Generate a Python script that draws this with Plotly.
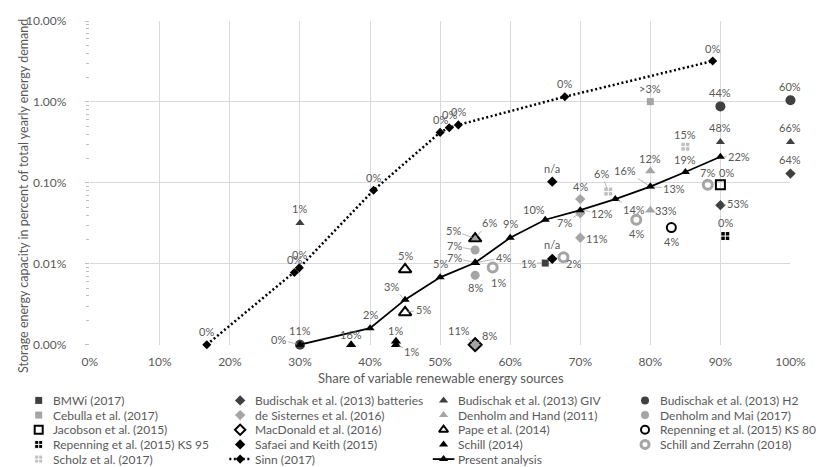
import math
import plotly.graph_objects as go

# values, y in percent of yearly demand (log axis)
bmwi_x = [65.0]
bmwi_y = [0.0102]
bmwi_lbl = ["1%"]

bud_bat_x = [90.0, 100.0]
bud_bat_y = [0.053, 0.13]
bud_bat_lbl = ["53%", "64%"]

bud_giv_x = [30.0, 90.0, 100.0]
bud_giv_y = [0.032, 0.32, 0.32]
bud_giv_lbl = ["1%", "48%", "66%"]

bud_h2_x = [30.0, 90.0, 100.0]
bud_h2_y = [0.001, 0.88, 1.05]
bud_h2_lbl = ["11%", "44%", "60%"]

cebulla_x = [80.0]
cebulla_y = [1.01]
cebulla_lbl = [">3%"]

desist_x = [70.0, 70.0, 70.0, 55.0]
desist_y = [0.063, 0.042, 0.021, 0.001]
desist_lbl = ["4%", "7%", "11%", "8%"]

dhand_x = [55.0, 80.0, 80.0, 80.0]
dhand_y = [0.021, 0.14, 0.090, 0.046]
dhand_lbl = ["6%", "12%", "13%", "33%"]

dmai_x = [55.0, 55.0]
dmai_y = [0.0148, 0.0072]
dmai_lbl = ["7%", "8%"]

jacobson_x = [90.0]
jacobson_y = [0.095]
jacobson_lbl = ["0%"]

macdonald_x = [55.0]
macdonald_y = [0.001]
macdonald_lbl = ["11%"]

pape_x = [45.0, 45.0, 55.0]
pape_y = [0.0085, 0.0025, 0.0205]
pape_lbl = ["5%", "5%", "5%"]

rep80_x = [83.0]
rep80_y = [0.028]
rep80_lbl = ["4%"]

rep95_x = [90.7]
rep95_y = [0.022]
rep95_lbl = ["0%"]

safaei_x = [66.0, 66.0]
safaei_y = [0.0115, 0.1035]
safaei_lbl = ["n/a", "n/a"]

schill_x = [37.3, 43.7, 43.7, 55.0]
schill_y = [0.001, 0.0011, 0.001, 0.0103]
schill_lbl = ["16%", "1%", "1%", "4%"]

schillz_x = [57.5, 67.6, 78.0, 88.2]
schillz_y = [0.009, 0.012, 0.035, 0.095]
schillz_lbl = ["1%", "2%", "4%", "7%"]

scholz_x = [74.0, 85.0]
scholz_y = [0.078, 0.28]
scholz_lbl = ["6%", "15%"]

sinn_x = [16.7, 29.2, 29.9, 40.5, 50.0, 51.3, 52.6, 67.8, 88.9]
sinn_y = [0.001, 0.0078, 0.0089, 0.081, 0.42, 0.48, 0.52, 1.16, 3.2]
sinn_lbl = ["0%", "0%", "0%", "0%", "0%", "0%", "0%", "0%", "0%"]

present_x = [30, 40, 45, 50, 55, 60, 65, 70, 75, 80, 85, 90]
present_y = [0.001, 0.0016, 0.0036, 0.0068, 0.0103, 0.021, 0.035, 0.046, 0.063, 0.090, 0.136, 0.21]
present_lbl = ["0%", "2%", "3%", "5%", "7%", "9%", "10%", "12%", "14%", "16%", "19%", "22%"]

DARK = "#404040"
MID = "#a5a5a5"
LIGHT = "#c0c0c0"
TXT = "#595959"
FONT = "Lato"

# label offsets in px (dx, dy down, leader line?)
OFF = {
    "BMWi (2017)": [(-17, 0, True)],
    "Budischak et al. (2013) batteries": [(18, -2, True), (0, -14, False)],
    "Budischak et al. (2013) GIV": [(0, -14, False)] * 3,
    "Budischak et al. (2013) H2": [(0, -14, False)] * 3,
    "Cebulla et al. (2017)": [(0, -13, False)],
    "de Sisternes et al. (2016)": [(0, -13, False), (-16, 9, True), (17, 1, False), (14, -9, True)],
    "Denholm and Hand (2011)": [(14, -15, True), (0, -13, False), (24, 2, True), (16, 0, False)],
    "Denholm and Mai (2017)": [(-21, -4, True), (0, 12, False)],
    "Jacobson et al. (2015)": [(6, -12, True)],
    "MacDonald et al. (2016)": [(-16, -14, True)],
    "Pape et al. (2014)": [(0, -14, False), (18, -3, True), (-22, -8, True)],
    "Repenning et al. (2015) KS 80": [(0, 14, False)],
    "Repenning et al. (2015) KS 95": [(0, -14, False)],
    "Safaei and Keith (2015)": [(0, -14, False), (0, -13, False)],
    "Schill (2014)": [(0, -10, False), (0, -11, False), (16, 7, True), (28, -5, True)],
    "Schill and Zerrahn (2018)": [(6, 15, False), (10, 6, False), (0, 14, False), (0, -12, False)],
    "Scholz et al. (2017)": [(-7, -18, True), (0, -12, False)],
    "Sinn (2017)": [(0, -13, False)] * 9,
    "Present analysis": [(-21, -5, True), (0, -14, False), (-14, -13, True), (0, -14, False),
                         (-21, -5, True), (0, -14, False), (-11, -10, False), (22, 3, True),
                         (19, 10, True), (-25, -16, True), (0, -13, False), (19, 0, True)],
}

cross_line = dict(color="white", width=1)
series = [
    ("BMWi (2017)", bmwi_x, bmwi_y, bmwi_lbl, dict(symbol="square", size=7, color=DARK), None),
    ("Budischak et al. (2013) batteries", bud_bat_x, bud_bat_y, bud_bat_lbl,
     dict(symbol="diamond", size=8, color=DARK), None),
    ("Budischak et al. (2013) GIV", bud_giv_x, bud_giv_y, bud_giv_lbl,
     dict(symbol="triangle-up", size=8, color=DARK), None),
    ("Budischak et al. (2013) H2", bud_h2_x, bud_h2_y, bud_h2_lbl,
     dict(symbol="circle", size=10, color=DARK), None),
    ("Cebulla et al. (2017)", cebulla_x, cebulla_y, cebulla_lbl, dict(symbol="square", size=7, color=MID), None),
    ("de Sisternes et al. (2016)", desist_x, desist_y, desist_lbl, dict(symbol="diamond", size=8, color=MID), None),
    ("Denholm and Hand (2011)", dhand_x, dhand_y, dhand_lbl, dict(symbol="triangle-up", size=9, color=MID), None),
    ("Denholm and Mai (2017)", dmai_x, dmai_y, dmai_lbl, dict(symbol="circle", size=9, color=MID), None),
    ("Jacobson et al. (2015)", jacobson_x, jacobson_y, jacobson_lbl,
     dict(symbol="square-open", size=9, color="black", line=dict(width=2)), None),
    ("MacDonald et al. (2016)", macdonald_x, macdonald_y, macdonald_lbl,
     dict(symbol="diamond-open", size=10, color="black", line=dict(width=2)), None),
    ("Pape et al. (2014)", pape_x, pape_y, pape_lbl,
     dict(symbol="triangle-up-open", size=11, color="black", line=dict(width=2)), None),
    ("Repenning et al. (2015) KS 80", rep80_x, rep80_y, rep80_lbl,
     dict(symbol="circle-open", size=9, color="black", line=dict(width=2)), None),
    ("Repenning et al. (2015) KS 95", rep95_x, rep95_y, rep95_lbl,
     dict(symbol="square-cross", size=9, color="black", line=cross_line), None),
    ("Safaei and Keith (2015)", safaei_x, safaei_y, safaei_lbl, dict(symbol="diamond", size=8, color="black"), None),
    ("Schill (2014)", schill_x, schill_y, schill_lbl, dict(symbol="triangle-up", size=9, color="black"), None),
    ("Schill and Zerrahn (2018)", schillz_x, schillz_y, schillz_lbl,
     dict(symbol="circle-open", size=9, color=MID, line=dict(width=3)), None),
    ("Scholz et al. (2017)", scholz_x, scholz_y, scholz_lbl,
     dict(symbol="square-cross", size=9, color=LIGHT, line=cross_line), None),
    ("Sinn (2017)", sinn_x, sinn_y, sinn_lbl, dict(symbol="diamond", size=7, color="black"),
     dict(color="black", width=2.5, dash="2px,2.5px")),
    ("Present analysis", present_x, present_y, present_lbl, dict(symbol="triangle-up", size=8, color="black"),
     dict(color="black", width=1.8)),
]

fig = go.Figure()
annotations = []

for name, xs, ys, lbls, marker, line in series:
    fig.add_trace(go.Scatter(
        x=xs, y=ys, name=name, mode="lines+markers" if line else "markers",
        marker=marker, line=line, cliponaxis=False, showlegend=False,
    ))
    for x, y, t, (dx, dy, leader) in zip(xs, ys, lbls, OFF[name]):
        a = dict(x=x, y=math.log10(y), xref="x", yref="y", text=t,
                 font=dict(family=FONT, size=11, color=TXT))
        if leader:
            a.update(showarrow=True, ax=dx, ay=dy, arrowhead=0, arrowwidth=0.8,
                     arrowcolor="#a6a6a6", standoff=3)
        else:
            a.update(showarrow=False, xshift=dx, yshift=-dy)
        annotations.append(a)

# legend drawn on a pixel overlay (x2/y2) so it matches the 4-column grid
col_x = [28, 233, 440, 645]
row_y = [398, 413, 428, 443, 458]
for i, (name, xs, ys, lbls, marker, line) in enumerate(series):
    r, c = divmod(i, 4)
    mx, my = col_x[c], row_y[r]
    if line:
        fig.add_trace(go.Scatter(x=[mx - 11, mx + 11], y=[my, my], mode="lines", line=line,
                                 xaxis="x2", yaxis="y2", showlegend=False, hoverinfo="skip"))
    m = dict(marker)
    m["size"] = min(m["size"], 8)
    fig.add_trace(go.Scatter(x=[mx], y=[my], mode="markers", marker=m, xaxis="x2", yaxis="y2",
                             showlegend=False, hoverinfo="skip", cliponaxis=False))
    annotations.append(dict(x=mx + 13, y=my, xref="x2", yref="y2", text=name, showarrow=False,
                            xanchor="left", font=dict(family=FONT, size=12, color=TXT)))

annotations.append(dict(x=437, y=375, xref="x2", yref="y2", showarrow=False,
                        text="Share of variable renewable energy sources",
                        font=dict(family=FONT, size=13, color=TXT)))
annotations.append(dict(x=12, y=189, xref="x2", yref="y2", showarrow=False, textangle=-90,
                        text="Storage energy capacity in percent of total yearly energy demand",
                        font=dict(family=FONT, size=12.5, color=TXT)))

W, H = 830, 467
ML, MR, MT, MB = 10, 10, 10, 5
pw, ph = W - ML - MR, H - MT - MB

fig.update_layout(
    width=W, height=H,
    margin=dict(l=ML, r=MR, t=MT, b=MB),
    paper_bgcolor="white", plot_bgcolor="rgba(0,0,0,0)",
    showlegend=False,
    annotations=annotations,
    xaxis=dict(
        domain=[(80 - ML) / pw, (793 - ML) / pw],
        range=[0, 100], dtick=10, ticksuffix="%",
        showgrid=True, gridcolor="#d9d9d9", zeroline=False, showline=False,
        ticks="", ticklabelstandoff=8,
        tickfont=dict(family=FONT, size=12, color=TXT),
    ),
    yaxis=dict(
        domain=[(H - MB - 341) / ph, 1],
        type="log", range=[-3, 1], dtick=1, tickformat=".2f", ticksuffix="%",
        showgrid=True, gridcolor="#d9d9d9", zeroline=False, showline=False,
        ticks="outside", ticklen=4, tickcolor="#bfbfbf", ticklabelstandoff=16,
        minor=dict(ticks="outside", ticklen=3, tickcolor="#bfbfbf", dtick="D1", showgrid=False),
        tickfont=dict(family=FONT, size=12, color=TXT),
    ),
    xaxis2=dict(domain=[0, 1], range=[ML, W - MR], visible=False, anchor="y2"),
    yaxis2=dict(domain=[0, 1], range=[H - MB, MT], visible=False, anchor="x2"),
)

fig.write_html("out.html")
